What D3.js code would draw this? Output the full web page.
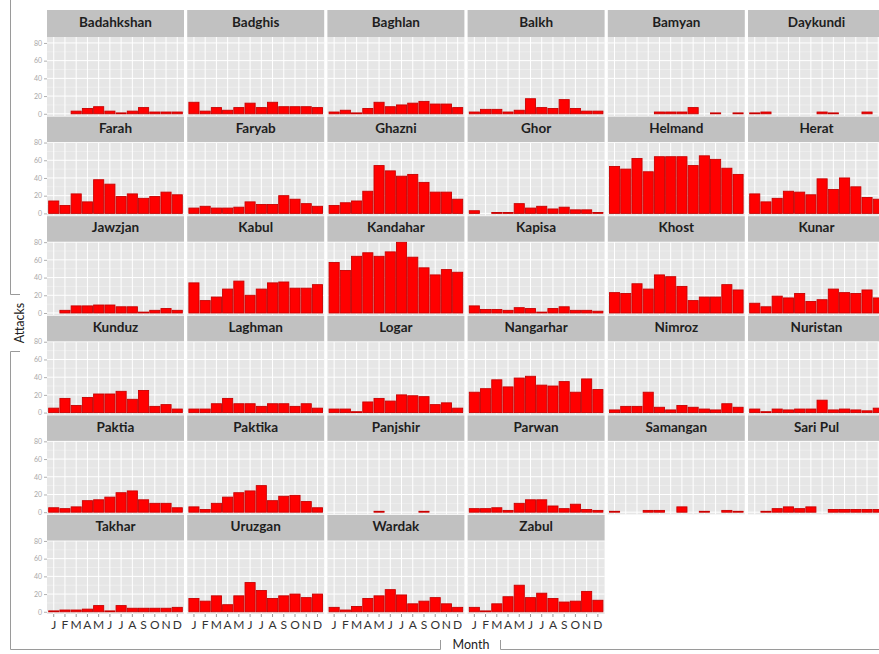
<!DOCTYPE html>
<html>
<head>
<meta charset="utf-8">
<script src="https://cdn.jsdelivr.net/npm/d3@7"></script>
<style>
  body { margin: 0; background: #fff; }
  svg { display: block; }
</style>
</head>
<body>
<svg id="chart" width="879" height="654"></svg>
<script>
// Monthly attack counts by province, Jan–Dec
const months = ["J", "F", "M", "A", "M", "J", "J", "A", "S", "O", "N", "D"];
const yTicks = [0, 20, 40, 60, 80];
const yMinor = [10, 30, 50, 70];

const provinces = [
  "Badahkshan", "Badghis", "Baghlan", "Balkh", "Bamyan", "Daykundi",
  "Farah", "Faryab", "Ghazni", "Ghor", "Helmand", "Herat",
  "Jawzjan", "Kabul", "Kandahar", "Kapisa", "Khost", "Kunar",
  "Kunduz", "Laghman", "Logar", "Nangarhar", "Nimroz", "Nuristan",
  "Paktia", "Paktika", "Panjshir", "Parwan", "Samangan", "Sari Pul",
  "Takhar", "Uruzgan", "Wardak", "Zabul"
];

const badahkshan = [0, 0, 3, 6, 8, 3, 1, 3, 7, 2, 2, 2];
const badghis    = [13, 3, 7, 4, 7, 12, 7, 13, 8, 8, 8, 7];
const baghlan    = [2, 4, 1, 6, 13, 8, 10, 12, 14, 11, 11, 7];
const balkh      = [2, 5, 5, 2, 4, 17, 7, 6, 16, 6, 3, 3];
const bamyan     = [0, 0, 0, 0, 2, 2, 2, 7, 0, 1, 0, 1];
const daykundi   = [1, 2, 0, 0, 0, 0, 2, 1, 0, 0, 2, 0];
const farah      = [14, 9, 22, 13, 38, 33, 19, 22, 17, 19, 24, 21];
const faryab     = [6, 8, 6, 6, 7, 13, 10, 10, 20, 16, 11, 8];
const ghazni     = [9, 12, 14, 25, 54, 48, 42, 44, 35, 24, 24, 16];
const ghor       = [3, 0, 1, 1, 11, 6, 8, 5, 7, 4, 4, 1];
const helmand    = [53, 50, 62, 47, 64, 64, 64, 54, 65, 61, 51, 44];
const herat      = [22, 13, 17, 25, 24, 21, 39, 27, 40, 30, 18, 16];
const jawzjan    = [0, 3, 8, 8, 9, 9, 7, 7, 1, 3, 5, 3];
const kabul      = [34, 14, 18, 27, 36, 20, 27, 34, 35, 28, 28, 32];
const kandahar   = [57, 48, 64, 68, 64, 69, 80, 63, 51, 43, 49, 46];
const kapisa     = [8, 4, 4, 3, 6, 5, 1, 5, 7, 3, 3, 2];
const khost      = [23, 22, 33, 27, 43, 41, 30, 14, 18, 18, 32, 26];
const kunar      = [11, 7, 19, 17, 22, 13, 15, 27, 23, 22, 26, 17];
const kunduz     = [5, 16, 8, 17, 21, 21, 24, 15, 25, 7, 9, 4];
const laghman    = [4, 4, 10, 16, 10, 10, 7, 10, 10, 7, 10, 5];
const logar      = [4, 4, 1, 12, 16, 13, 20, 19, 18, 9, 11, 5];
const nangarhar  = [23, 27, 37, 29, 39, 41, 31, 30, 35, 23, 38, 26];
const nimroz     = [3, 7, 7, 23, 6, 3, 8, 6, 4, 3, 10, 6];
const nuristan   = [4, 1, 4, 3, 4, 4, 14, 3, 4, 3, 2, 5];
const paktia     = [5, 4, 6, 13, 14, 17, 22, 24, 14, 10, 10, 5];
const paktika    = [6, 3, 10, 17, 22, 24, 30, 13, 18, 19, 12, 5];
const panjshir   = [0, 0, 0, 0, 1, 0, 0, 0, 1, 0, 0, 0];
const parwan     = [4, 4, 5, 2, 10, 14, 14, 7, 4, 9, 3, 2];
const samangan   = [1, 0, 0, 2, 2, 0, 6, 0, 1, 0, 2, 1];
const sariPul    = [0, 1, 4, 6, 4, 6, 0, 3, 3, 3, 3, 3];
const takhar     = [1, 2, 2, 3, 7, 1, 7, 4, 4, 4, 4, 5];
const uruzgan    = [15, 12, 18, 8, 18, 33, 24, 15, 18, 20, 16, 20];
const wardak     = [5, 2, 6, 15, 18, 25, 19, 9, 12, 16, 9, 5];
const zabul      = [5, 1, 9, 17, 30, 16, 21, 15, 11, 12, 23, 13];

const series = [
  badahkshan, badghis, baghlan, balkh, bamyan, daykundi,
  farah, faryab, ghazni, ghor, helmand, herat,
  jawzjan, kabul, kandahar, kapisa, khost, kunar,
  kunduz, laghman, logar, nangarhar, nimroz, nuristan,
  paktia, paktika, panjshir, parwan, samangan, sariPul,
  takhar, uruzgan, wardak, zabul
];

// ---- layout ----
const nCols = 6;
const nRows = Math.ceil(provinces.length / nCols);
const colX0 = 47, colStep = 140.2, panelW = 137;
const rowStep = 99.6, stripH = 25.5, panelH = 73.5;
const firstBottom = 116;          // bottom edge of the first row of panels
const firstStripTop = 10, firstStripH = 27;

const svg = d3.select("#chart");
const font = "Lato, 'Open Sans', 'DejaVu Sans', sans-serif";

// shared scales (fixed across facets)
const x = d3.scaleBand()
  .domain(d3.range(months.length))
  .range([0, panelW])
  .paddingInner(0.1)
  .paddingOuter(0.15);

const maxV = d3.max(series, s => d3.max(s));
const y = d3.scaleLinear().domain([-2.5, maxV + 0.5]).range([panelH, 0]);

// ---- facets ----
provinces.forEach((name, i) => {
  const col = i % nCols, row = Math.floor(i / nCols);
  const px = colX0 + col * colStep;
  const bottom = firstBottom + row * rowStep;
  const py = bottom - panelH;                         // top of the value range
  const sTop = row === 0 ? firstStripTop : py - stripH;
  const sH = row === 0 ? firstStripH : stripH;
  const bgTop = sTop + sH;                            // panel background starts under the strip

  const g = svg.append("g").attr("transform", `translate(${px},${py})`);

  // panel background
  g.append("rect")
    .attr("y", bgTop - py).attr("width", panelW).attr("height", bottom - bgTop)
    .attr("fill", "#e6e6e6");

  // minor grid
  g.selectAll(".ymin").data(yMinor).join("line")
    .attr("class", "ymin")
    .attr("x1", 0).attr("x2", panelW)
    .attr("y1", d => y(d)).attr("y2", d => y(d))
    .attr("stroke", "#f3f3f3").attr("stroke-width", 0.6);

  // major grid
  g.selectAll(".ymaj").data(yTicks).join("line")
    .attr("class", "ymaj")
    .attr("x1", 0).attr("x2", panelW)
    .attr("y1", d => y(d)).attr("y2", d => y(d))
    .attr("stroke", "#ffffff").attr("stroke-width", 1);
  g.selectAll(".xmaj").data(d3.range(months.length)).join("line")
    .attr("class", "xmaj")
    .attr("x1", d => x(d) + x.bandwidth() / 2).attr("x2", d => x(d) + x.bandwidth() / 2)
    .attr("y1", bgTop - py).attr("y2", panelH)
    .attr("stroke", "#ffffff").attr("stroke-width", 1);

  // bars
  const vals = series[i].map((v, m) => ({ m, v })).filter(d => d.v > 0);
  g.selectAll(".bar").data(vals).join("rect")
    .attr("class", "bar")
    .attr("x", d => x(d.m))
    .attr("width", x.bandwidth())
    .attr("y", d => y(d.v))
    .attr("height", d => y(0) - y(d.v))
    .attr("fill", "#ff0000")
    .attr("stroke", "#c80000")
    .attr("stroke-width", 0.9);

  // strip
  const sg = svg.append("g").attr("transform", `translate(${px},${sTop})`);
  sg.append("rect").attr("width", panelW).attr("height", sH).attr("fill", "#c1c1c1");
  sg.append("text")
    .attr("x", panelW / 2).attr("y", sH / 2)
    .attr("text-anchor", "middle").attr("dominant-baseline", "middle")
    .attr("font-family", font).attr("font-weight", "bold").attr("font-size", 13.5)
    .attr("fill", "#1e1e1e")
    .text(name);

  // y axis on first column
  if (col === 0) {
    const ay = svg.append("g").attr("transform", `translate(${px},${py})`)
      .call(d3.axisLeft(y).tickValues(yTicks).tickSize(3).tickPadding(2));
    ay.select(".domain").remove();
    ay.selectAll(".tick line").attr("stroke", "#b0b0b0");
    ay.selectAll(".tick text").attr("fill", "#a8a8a8").attr("font-size", 7)
      .attr("font-family", font);
  }

  // x axis on the last row of panels
  if (row === nRows - 1) {
    const ax = svg.append("g").attr("transform", `translate(${px},${bottom})`)
      .call(d3.axisBottom(x).tickFormat(d => months[d]).tickSize(3).tickPadding(3));
    ax.select(".domain").remove();
    ax.selectAll(".tick line").attr("stroke", "#999");
    ax.selectAll(".tick text").attr("fill", "#333").attr("font-size", 12)
      .attr("font-family", font);
  }
});

// axis titles
svg.append("text")
  .attr("transform", "translate(21,323) rotate(-90)")
  .attr("text-anchor", "middle").attr("dominant-baseline", "middle")
  .attr("font-family", font).attr("font-size", 12.5).attr("fill", "#222")
  .text("Attacks");
svg.append("text")
  .attr("x", 471).attr("y", 646)
  .attr("text-anchor", "middle").attr("dominant-baseline", "middle")
  .attr("font-family", font).attr("font-size", 12.5).attr("fill", "#222")
  .text("Month");

// surrounding frame, open around the axis titles
const frame = svg.append("g").attr("fill", "none").attr("stroke", "#9a9a9a").attr("stroke-width", 1);
frame.append("path").attr("d", "M10.5,0 V294.5 H20");
frame.append("path").attr("d", "M20,351.5 H10.5 V649.5 H440.5 V640");
frame.append("path").attr("d", "M500.5,640 V649.5 H879");
</script>
</body>
</html>
